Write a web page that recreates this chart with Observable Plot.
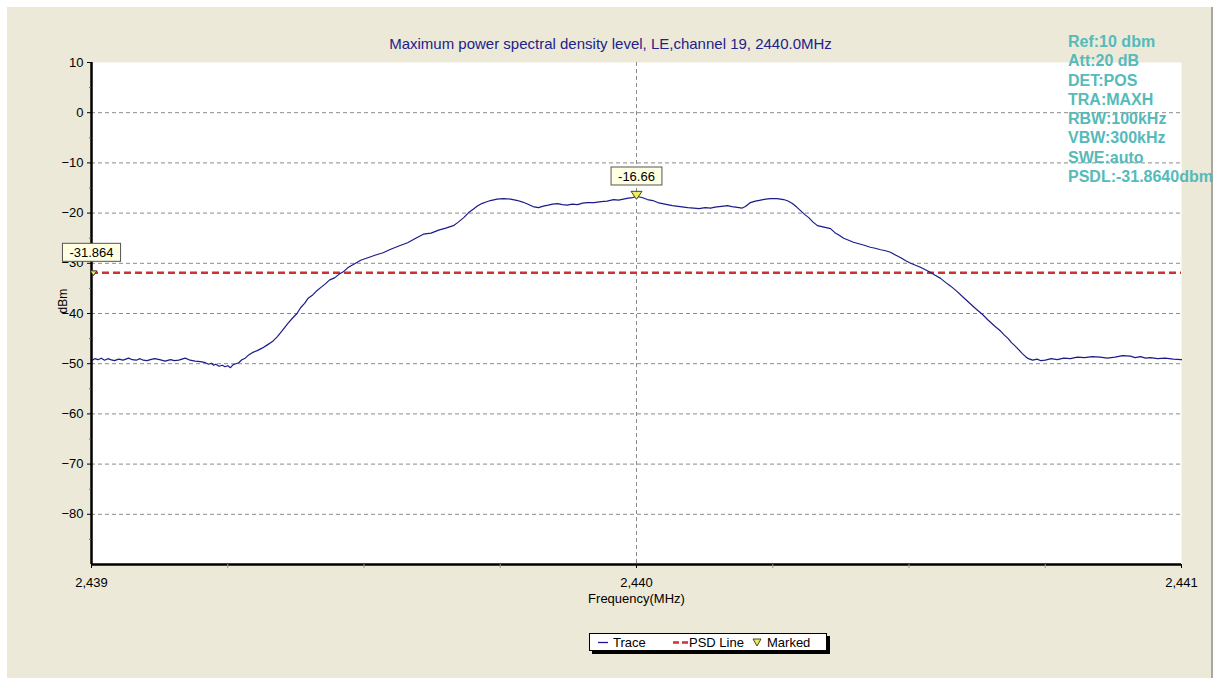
<!DOCTYPE html>
<html>
<head>
<meta charset="utf-8">
<script src="https://cdn.jsdelivr.net/npm/d3@7"></script>
<script src="https://cdn.jsdelivr.net/npm/@observablehq/plot@0.6"></script>
<style>
  html, body { margin: 0; padding: 0; background: #ffffff; width: 1221px; height: 679px; overflow: hidden; }
  #panel { position: absolute; left: 7px; top: 7px; width: 1206px; height: 671px; background: #ECE9D8; border-right: 2px solid #a8a8a0; box-sizing: border-box; }
  #chart { position: absolute; left: 0; top: 0; }
  #title { position: absolute; left: 0; top: 35px; width: 1221px; text-align: center; font: 15px "Liberation Sans", Arial, sans-serif; color: #22228c; }
  #info { position: absolute; left: 1068px; top: 32px; font: bold 16px "Liberation Sans", Arial, sans-serif; color: #55baba; line-height: 19.3px; white-space: nowrap; }
  #legend { position: absolute; left: 589px; top: 633px; width: 238px; height: 18px; border: 1px solid #000; background: #fff; box-shadow: 3px 3px 0 #000; box-sizing: border-box; font: 13px "Liberation Sans", Arial, sans-serif; color: #000; }
  #legend span { position: absolute; top: 1px; }
  #legend svg { position: absolute; top: 0; }
</style>
</head>
<body>
<div id="panel"></div>
<div id="chart"></div>
<div id="title"></div>
<div id="info"></div>
<div id="legend">
  <svg style="left:7px" width="12" height="16"><line x1="1" x2="11" y1="8.5" y2="8.5" stroke="#1a1a8a" stroke-width="1.3"/></svg>
  <span style="left:23px">Trace</span>
  <svg style="left:82px" width="18" height="16"><line x1="1" x2="16" y1="8.5" y2="8.5" stroke="#cc3333" stroke-width="2.5" stroke-dasharray="6,3"/></svg>
  <span style="left:99px">PSD Line</span>
  <svg style="left:161px" width="12" height="16"><path d="M2,5 L10,5 L6,12 Z" fill="#e8e870" stroke="#4a4a10" stroke-width="1"/></svg>
  <span style="left:177px">Marked</span>
</div>
<script>
// ---- data ----
const titleText = "Maximum power spectral density level, LE,channel 19, 2440.0MHz";
const infoLines = ["Ref:10 dbm", "Att:20 dB", "DET:POS", "TRA:MAXH", "RBW:100kHz", "VBW:300kHz", "SWE:auto", "PSDL:-31.8640dbm"];

const freq = [
  2439.000, 2439.006, 2439.012, 2439.018, 2439.024, 2439.030, 2439.035, 2439.042, 2439.050, 2439.058,
  2439.068, 2439.075, 2439.082, 2439.089, 2439.095, 2439.102, 2439.108, 2439.116, 2439.125, 2439.135,
  2439.145, 2439.152, 2439.160, 2439.166, 2439.172, 2439.181, 2439.190, 2439.200, 2439.209, 2439.215,
  2439.220, 2439.224, 2439.228, 2439.234, 2439.240, 2439.245, 2439.250, 2439.255, 2439.260, 2439.265,
  2439.270, 2439.276, 2439.282, 2439.289, 2439.295, 2439.304, 2439.313, 2439.322, 2439.332, 2439.341,
  2439.350, 2439.360, 2439.369, 2439.377, 2439.384, 2439.391, 2439.398, 2439.406, 2439.414, 2439.421,
  2439.429, 2439.437, 2439.446, 2439.454, 2439.462, 2439.470, 2439.478, 2439.486, 2439.494, 2439.507,
  2439.520, 2439.535, 2439.549, 2439.565, 2439.580, 2439.595, 2439.609, 2439.623, 2439.637, 2439.650,
  2439.664, 2439.673, 2439.683, 2439.692, 2439.701, 2439.708, 2439.716, 2439.724, 2439.732, 2439.744,
  2439.756, 2439.769, 2439.782, 2439.791, 2439.800, 2439.810, 2439.820, 2439.829, 2439.838, 2439.846,
  2439.855, 2439.864, 2439.873, 2439.882, 2439.892, 2439.901, 2439.910, 2439.922, 2439.935, 2439.946,
  2439.958, 2439.967, 2439.976, 2439.985, 2439.993, 2440.000, 2440.010, 2440.020, 2440.030, 2440.039,
  2440.052, 2440.066, 2440.080, 2440.094, 2440.105, 2440.115, 2440.126, 2440.136, 2440.144, 2440.152,
  2440.160, 2440.167, 2440.175, 2440.182, 2440.188, 2440.194, 2440.200, 2440.209, 2440.218, 2440.228,
  2440.237, 2440.246, 2440.258, 2440.270, 2440.278, 2440.286, 2440.294, 2440.301, 2440.309, 2440.316,
  2440.324, 2440.332, 2440.344, 2440.356, 2440.364, 2440.372, 2440.380, 2440.387, 2440.398, 2440.408,
  2440.418, 2440.429, 2440.438, 2440.448, 2440.457, 2440.466, 2440.476, 2440.485, 2440.494, 2440.503,
  2440.512, 2440.521, 2440.530, 2440.539, 2440.548, 2440.558, 2440.567, 2440.576, 2440.588, 2440.600,
  2440.611, 2440.622, 2440.634, 2440.645, 2440.656, 2440.668, 2440.675, 2440.682, 2440.688, 2440.695,
  2440.702, 2440.708, 2440.714, 2440.719, 2440.727, 2440.735, 2440.742, 2440.750, 2440.761, 2440.772,
  2440.784, 2440.796, 2440.809, 2440.822, 2440.836, 2440.851, 2440.864, 2440.878, 2440.892, 2440.906,
  2440.915, 2440.925, 2440.934, 2440.943, 2440.956, 2440.970, 2440.985, 2441.000
];
const dbm = [
  -49.4, -49.0, -49.2, -48.9, -49.3, -49.0, -49.2, -49.4, -49.1, -49.3,
  -48.9, -49.2, -49.3, -49.0, -49.3, -49.4, -49.2, -49.0, -49.2, -49.5,
  -49.2, -49.4, -49.3, -49.1, -48.9, -49.3, -49.5, -49.6, -49.8, -50.1,
  -49.9, -50.3, -50.1, -50.5, -50.3, -50.6, -50.4, -50.8, -50.2, -50.0,
  -49.8, -49.2, -48.9, -48.2, -47.8, -47.4, -46.9, -46.3, -45.6, -44.6,
  -43.4, -42.0, -40.9, -40.0, -38.8, -38.0, -36.9, -36.3, -35.4, -34.8,
  -34.1, -33.3, -32.9, -32.2, -31.7, -30.9, -30.4, -29.9, -29.4, -28.9,
  -28.4, -27.9, -27.2, -26.5, -25.9, -25.0, -24.2, -24.0, -23.4, -23.0,
  -22.5, -21.8, -20.9, -19.9, -19.2, -18.6, -18.1, -17.8, -17.5, -17.2,
  -17.1, -17.2, -17.5, -17.8, -18.2, -18.7, -18.9, -18.6, -18.4, -18.2,
  -18.1, -18.3, -18.4, -18.2, -18.3, -18.0, -17.9, -17.9, -17.7, -17.6,
  -17.3, -17.4, -17.2, -17.0, -16.9, -16.66, -16.9, -17.3, -17.5, -17.9,
  -18.2, -18.5, -18.7, -18.9, -19.0, -19.1, -18.9, -19.0, -18.8, -18.7,
  -18.6, -18.5, -18.7, -18.8, -18.9, -19.0, -18.7, -17.9, -17.6, -17.4,
  -17.2, -17.1, -17.1, -17.3, -17.6, -18.1, -18.8, -19.5, -20.3, -20.9,
  -21.8, -22.5, -22.8, -23.1, -23.9, -24.4, -25.0, -25.3, -25.8, -26.1,
  -26.4, -26.8, -27.0, -27.3, -27.5, -27.8, -28.4, -28.9, -29.5, -30.0,
  -30.4, -30.8, -31.3, -31.8, -32.4, -33.0, -33.8, -34.5, -35.6, -36.8,
  -37.9, -39.0, -40.1, -41.3, -42.4, -43.5, -44.3, -45.0, -45.8, -46.5,
  -47.3, -48.0, -48.6, -49.0, -49.3, -49.1, -49.4, -49.3, -49.0, -49.2,
  -48.9, -49.0, -48.7, -48.8, -48.6, -48.7, -48.9, -48.7, -48.4, -48.5,
  -48.8, -48.6, -48.9, -48.8, -49.0, -48.9, -49.1, -49.2
];

const psdl = -31.864;
const peak = { f: 2440.0, v: -16.66, label: "-16.66" };
const psdMark = { f: 2439.0, v: psdl, label: "-31.864" };

const yTicks = [10, 0, -10, -20, -30, -40, -50, -60, -70, -80];
const yMinor = [5, -5, -15, -25, -35, -45, -55, -65, -75, -85];
const yGrid = [0, -10, -20, -30, -40, -50, -60, -70, -80];
const xTicks = [2439, 2440, 2441];
const xMinor = [2439.25, 2439.5, 2439.75, 2440.25, 2440.5, 2440.75];
const xGrid = [2440];

// ---- build ----
document.getElementById("title").textContent = titleText;
document.getElementById("info").innerHTML = infoLines.map(s => `<div>${s}</div>`).join("");

const trace = freq.map((f, i) => ({ f, v: dbm[i] }));

const invTri = {
  draw(ctx, size) {
    const r = Math.sqrt(size / Math.PI);
    const w = r * 1.1, h = r * 1.6;
    ctx.moveTo(-w, -h);
    ctx.lineTo(w, -h);
    ctx.lineTo(0, 0);
    ctx.closePath();
  }
};

const chart = Plot.plot({
  width: 1221,
  height: 679,
  marginLeft: 91,
  marginRight: 40,
  marginTop: 62,
  marginBottom: 115,
  x: { domain: [2439, 2441] },
  y: { domain: [-90, 10] },
  style: { background: "transparent", fontFamily: "'Liberation Sans', Arial, sans-serif", fontSize: "13px", color: "#000" },
  marks: [
    Plot.frame({ fill: "white", stroke: "none" }),
    Plot.ruleY(yGrid, { stroke: "#8a8a8a", strokeDasharray: "4,3", strokeWidth: 1 }),
    Plot.ruleX(xGrid, { stroke: "#8a8a8a", strokeDasharray: "4,3", strokeWidth: 1 }),
    Plot.ruleY([psdl], { stroke: "#cc3333", strokeWidth: 2.5, strokeDasharray: "7,4" }),
    Plot.line(trace, { x: "f", y: "v", stroke: "#1a1a8a", strokeWidth: 1.2 }),
    Plot.ruleX([2439], { stroke: "#000", strokeWidth: 2.5 }),
    Plot.ruleY([-90], { stroke: "#000", strokeWidth: 2.5 }),
    Plot.axisY(yTicks, { tickSize: 4, tickPadding: 4, label: null, fontSize: 13 }),
    Plot.axisY(yMinor, { tickSize: 2, text: null, label: null, stroke: "#666" }),
    Plot.axisX(xTicks, { tickSize: 4, tickPadding: 9, tickFormat: d3.format(","), label: null, fontSize: 13 }),
    Plot.axisX(xMinor, { tickSize: 4, text: null, label: null, stroke: "#999" }),
    Plot.text(["dBm"], { frameAnchor: "left", dx: -28, rotate: -90, fontSize: 12 }),
    Plot.text(["Frequency(MHz)"], { frameAnchor: "bottom", dy: 38, fontSize: 13 }),
    Plot.dot([peak], { x: "f", y: "v", symbol: invTri, r: 5, dy: 3, fill: "#eeee66", stroke: "#4a4a10", strokeWidth: 1 }),
    Plot.dot([psdMark], { x: "f", y: "v", symbol: invTri, r: 3, dx: 2, dy: 3, fill: "#eeee66", stroke: "#333", strokeWidth: 1 }),
    Plot.text([peak, psdMark], { x: "f", y: "v", text: "label", dy: -20, fontSize: 13 })
  ]
});
document.getElementById("chart").appendChild(chart);

// label boxes behind marker texts
const ns = "http://www.w3.org/2000/svg";
const markLabels = [peak.label, psdMark.label];
Array.from(chart.querySelectorAll("text"))
  .filter(t => markLabels.includes(t.textContent.trim()))
  .forEach(t => {
    const b = t.getBBox();
    const r = document.createElementNS(ns, "rect");
    r.setAttribute("x", b.x - 7);
    r.setAttribute("y", b.y - 1.5);
    r.setAttribute("width", b.width + 14);
    r.setAttribute("height", b.height + 3);
    r.setAttribute("fill", "#ffffe1");
    r.setAttribute("stroke", "#555");
    r.setAttribute("stroke-width", "1");
    const tr = t.getAttribute("transform");
    if (tr) r.setAttribute("transform", tr);
    t.parentNode.insertBefore(r, t);
  });
</script>
</body>
</html>
